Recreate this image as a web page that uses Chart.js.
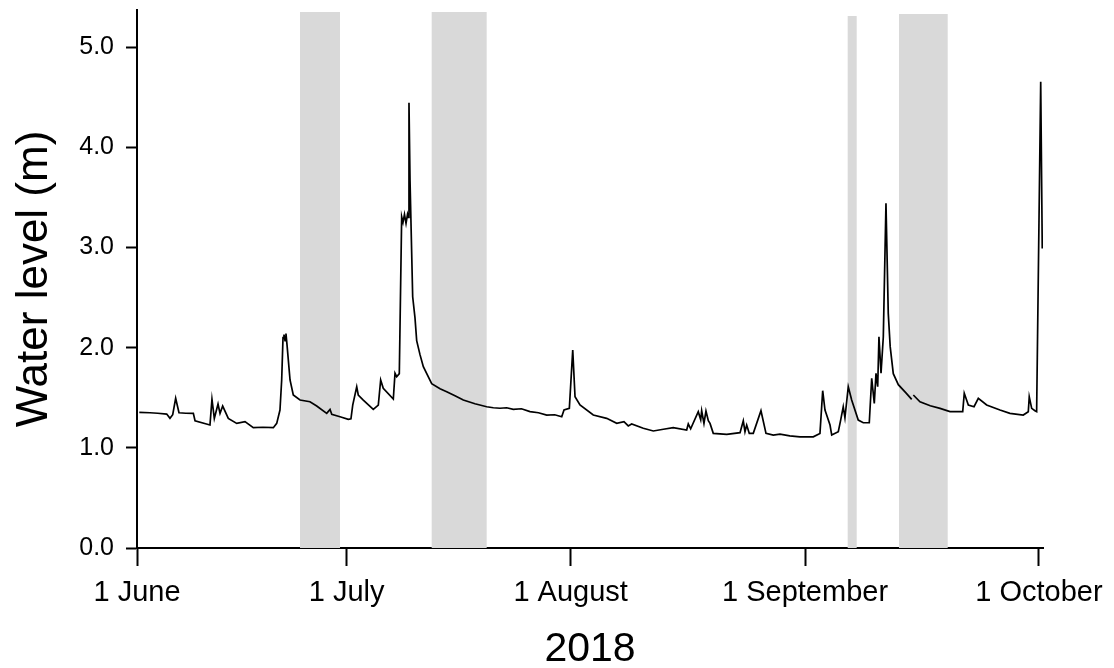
<!DOCTYPE html>
<html>
<head>
<meta charset="utf-8">
<script src="https://cdn.jsdelivr.net/npm/chart.js@4.4.1/dist/chart.umd.min.js"></script>
<style>
  html, body { margin: 0; padding: 0; background: #ffffff; }
  #wrap { width: 1114px; height: 668px; }
</style>
</head>
<body>
<div id="wrap"><canvas id="c" width="1114" height="668"></canvas></div>
<script>
// x values: days from 1 June 2018 along the reference's time axis
const dayValues = [
  0.31, 1.76, 2.80, 4.02, 4.46, 4.83, 5.23, 5.68, 6.60, 7.62, 7.85, 9.87,
  10.14, 10.46, 10.96, 11.23, 11.59, 12.35, 13.49, 14.61, 15.73, 17.04,
  18.44, 18.90, 19.34, 19.57, 19.75, 19.88, 20.02, 20.15, 20.29, 20.70,
  21.14, 22.05, 23.40, 24.31, 25.66, 26.11, 26.34, 27.46, 28.58, 28.94,
  29.18, 29.72, 29.93, 30.61, 31.96, 32.64, 32.96, 33.31, 34.67, 34.90,
  35.13, 35.48, 35.80, 35.98, 36.18, 36.39, 36.59, 36.70, 36.79, 36.93,
  37.29, 37.60, 37.83, 38.28, 38.73, 39.86, 40.99, 41.89, 43.01, 44.14, 45.71, 47.30,
  48.20, 49.10, 50.00, 50.90, 52.00, 53.16, 54.30, 55.42, 56.50, 57.45, 57.76, 58.48, 58.94, 59.25, 59.92, 61.72,
  63.53, 64.89, 65.87, 66.45, 66.91, 68.48, 69.84, 71.20, 72.54, 74.35, 74.57,
  74.89, 75.92, 76.25, 76.38, 76.69, 76.96, 77.28, 77.51, 77.95, 79.77,
  81.57, 82.01, 82.24, 82.47, 82.82, 83.36, 84.40, 85.08, 86.07, 86.97, 88.30,
  89.68, 91.48, 92.38, 92.75, 93.06, 93.74, 93.97, 94.86, 95.18, 95.53,
  95.76, 96.21, 96.67, 97.56, 98.24, 99.05, 99.38, 99.73, 99.96, 100.19,
  100.36, 100.64, 100.95, 101.31, 101.62, 101.88, 102.30, 102.98, 104.07, 104.79, 104.90, 105.01,
  105.91, 107.30, 108.62, 109.97, 111.69, 111.90, 112.45, 113.22, 113.80, 114.93, 116.73,
  118.08, 119.88, 120.56, 120.69, 121.02, 121.46, 121.69, 122.24, 122.45
];
// water level (m); null marks the short gap in the record
const waterLevel = [
  1.354, 1.350, 1.345, 1.337, 1.294, 1.330, 1.494, 1.350, 1.345, 1.344, 1.270, 1.228,
  1.484, 1.294, 1.437, 1.344, 1.417, 1.294, 1.244, 1.261, 1.201, 1.205,
  1.201, 1.244, 1.377, 1.677, 2.100, 2.130, 2.070, 2.140, 2.030, 1.677,
  1.527, 1.477, 1.460, 1.417, 1.344, 1.384, 1.334, 1.310, 1.284, 1.290,
  1.427, 1.610, 1.527, 1.477, 1.384, 1.427, 1.677, 1.594, 1.487, 1.744,
  1.710, 1.740, 3.307, 3.250, 3.330, 3.240, 3.330, 3.300, 4.444, 3.670,
  2.508, 2.300, 2.070, 1.930, 1.810, 1.640, 1.590, 1.560, 1.520, 1.477, 1.440, 1.410,
  1.400, 1.395, 1.400, 1.384, 1.390, 1.361, 1.350, 1.327, 1.330, 1.310, 1.377, 1.394, 1.976, 1.510, 1.427, 1.327,
  1.294, 1.244, 1.261, 1.218, 1.238, 1.195, 1.168, 1.185, 1.201, 1.178, 1.238,
  1.190, 1.361, 1.280, 1.370, 1.244, 1.367, 1.270, 1.244, 1.144, 1.134,
  1.151, 1.270, 1.160, 1.227, 1.144, 1.144, 1.370, 1.144, 1.127, 1.137, 1.120,
  1.110, 1.110, 1.144, 1.570, 1.377, 1.227, 1.127, 1.160, 1.277, 1.410,
  1.300, 1.610, 1.477, 1.277, 1.250, 1.250, 1.694, 1.444, 1.744, 1.610,
  2.109, 1.744, 2.109, 3.440, 2.342, 2.010, 1.740, 1.630, 1.544, 1.484, null, 1.527,
  1.460, 1.420, 1.394, 1.361, 1.361, 1.544, 1.427, 1.410, 1.494, 1.427, 1.377,
  1.344, 1.327, 1.360, 1.510, 1.394, 1.370, 1.361, 4.654, 2.990
];
// shaded periods (days from 1 June) and their top (m)
const bandStart = [22.05, 39.86, 96.13, 103.07];
const bandEnd   = [27.46, 47.30, 97.35, 109.66];
const bandTop   = [5.35, 5.35, 5.31, 5.33];
// axis ticks
const xTickValues = [0, 28.36, 58.66, 90.36, 122];
const xTickLabels = ['1 June', '1 July', '1 August', '1 September', '1 October'];
const yTickValues = [0, 1, 2, 3, 4, 5];
const xTitle = '2018';
const yTitle = 'Water level (m)';

const FONT = "'Liberation Sans', Arial, Helvetica, sans-serif";

const bandPlugin = {
  id: 'bands',
  beforeDatasetsDraw(chart) {
    const { ctx, scales: { x, y } } = chart;
    ctx.save();
    ctx.fillStyle = '#d9d9d9';
    for (let i = 0; i < bandStart.length; i++) {
      const x0 = x.getPixelForValue(bandStart[i]);
      const x1 = x.getPixelForValue(bandEnd[i]);
      const y0 = y.getPixelForValue(bandTop[i]);
      const y1 = y.getPixelForValue(0);
      ctx.fillRect(x0, y0, x1 - x0, y1 - y0);
    }
    ctx.restore();
  }
};

const points = dayValues.map((d, i) => ({ x: d, y: waterLevel[i] }));

new Chart(document.getElementById('c'), {
  type: 'line',
  data: {
    datasets: [{
      data: points,
      borderColor: '#000000',
      borderWidth: 1.7,
      pointRadius: 0,
      tension: 0,
      fill: false,
      spanGaps: false
    }]
  },
  options: {
    responsive: false,
    animation: false,
    layout: { padding: { top: 10, right: 71, left: 0, bottom: 0 } },
    plugins: { legend: { display: false }, tooltip: { enabled: false } },
    scales: {
      x: {
        type: 'linear',
        min: 0,
        max: 122.55,
        afterFit(scale) { scale.height = 120; scale.paddingLeft = 0; scale.paddingRight = 0; },
        afterBuildTicks(scale) { scale.ticks = xTickValues.map(v => ({ value: v })); },
        border: { display: true, color: '#000000', width: 2 },
        grid: { display: true, drawOnChartArea: false, drawTicks: true, tickLength: 18, tickColor: '#000000', tickWidth: 2 },
        ticks: {
          autoSkip: false,
          maxRotation: 0,
          padding: 10,
          color: '#000000',
          font: { family: FONT, size: 29 },
          callback(value) {
            const i = xTickValues.indexOf(value);
            return i >= 0 ? xTickLabels[i] : '';
          }
        },
        title: {
          display: true,
          text: xTitle,
          color: '#000000',
          font: { family: FONT, size: 41, lineHeight: 1 },
          padding: { top: 0, bottom: -2 }
        }
      },
      y: {
        type: 'linear',
        min: 0,
        max: 5.37,
        afterFit(scale) { scale.width = 137; scale.paddingTop = 0; scale.paddingBottom = 0; },
        afterBuildTicks(scale) { scale.ticks = yTickValues.map(v => ({ value: v })); },
        border: { display: true, color: '#000000', width: 2 },
        grid: { display: true, drawOnChartArea: false, drawTicks: true, tickLength: 11, tickColor: '#000000', tickWidth: 2 },
        ticks: {
          padding: 12,
          color: '#000000',
          font: { family: FONT, size: 25 },
          callback(value) { return Number(value).toFixed(1); }
        },
        title: {
          display: true,
          text: yTitle,
          color: '#000000',
          font: { family: FONT, size: 44, lineHeight: 1 },
          padding: { top: 13, bottom: 0 }
        }
      }
    }
  },
  plugins: [bandPlugin]
});
</script>
</body>
</html>
